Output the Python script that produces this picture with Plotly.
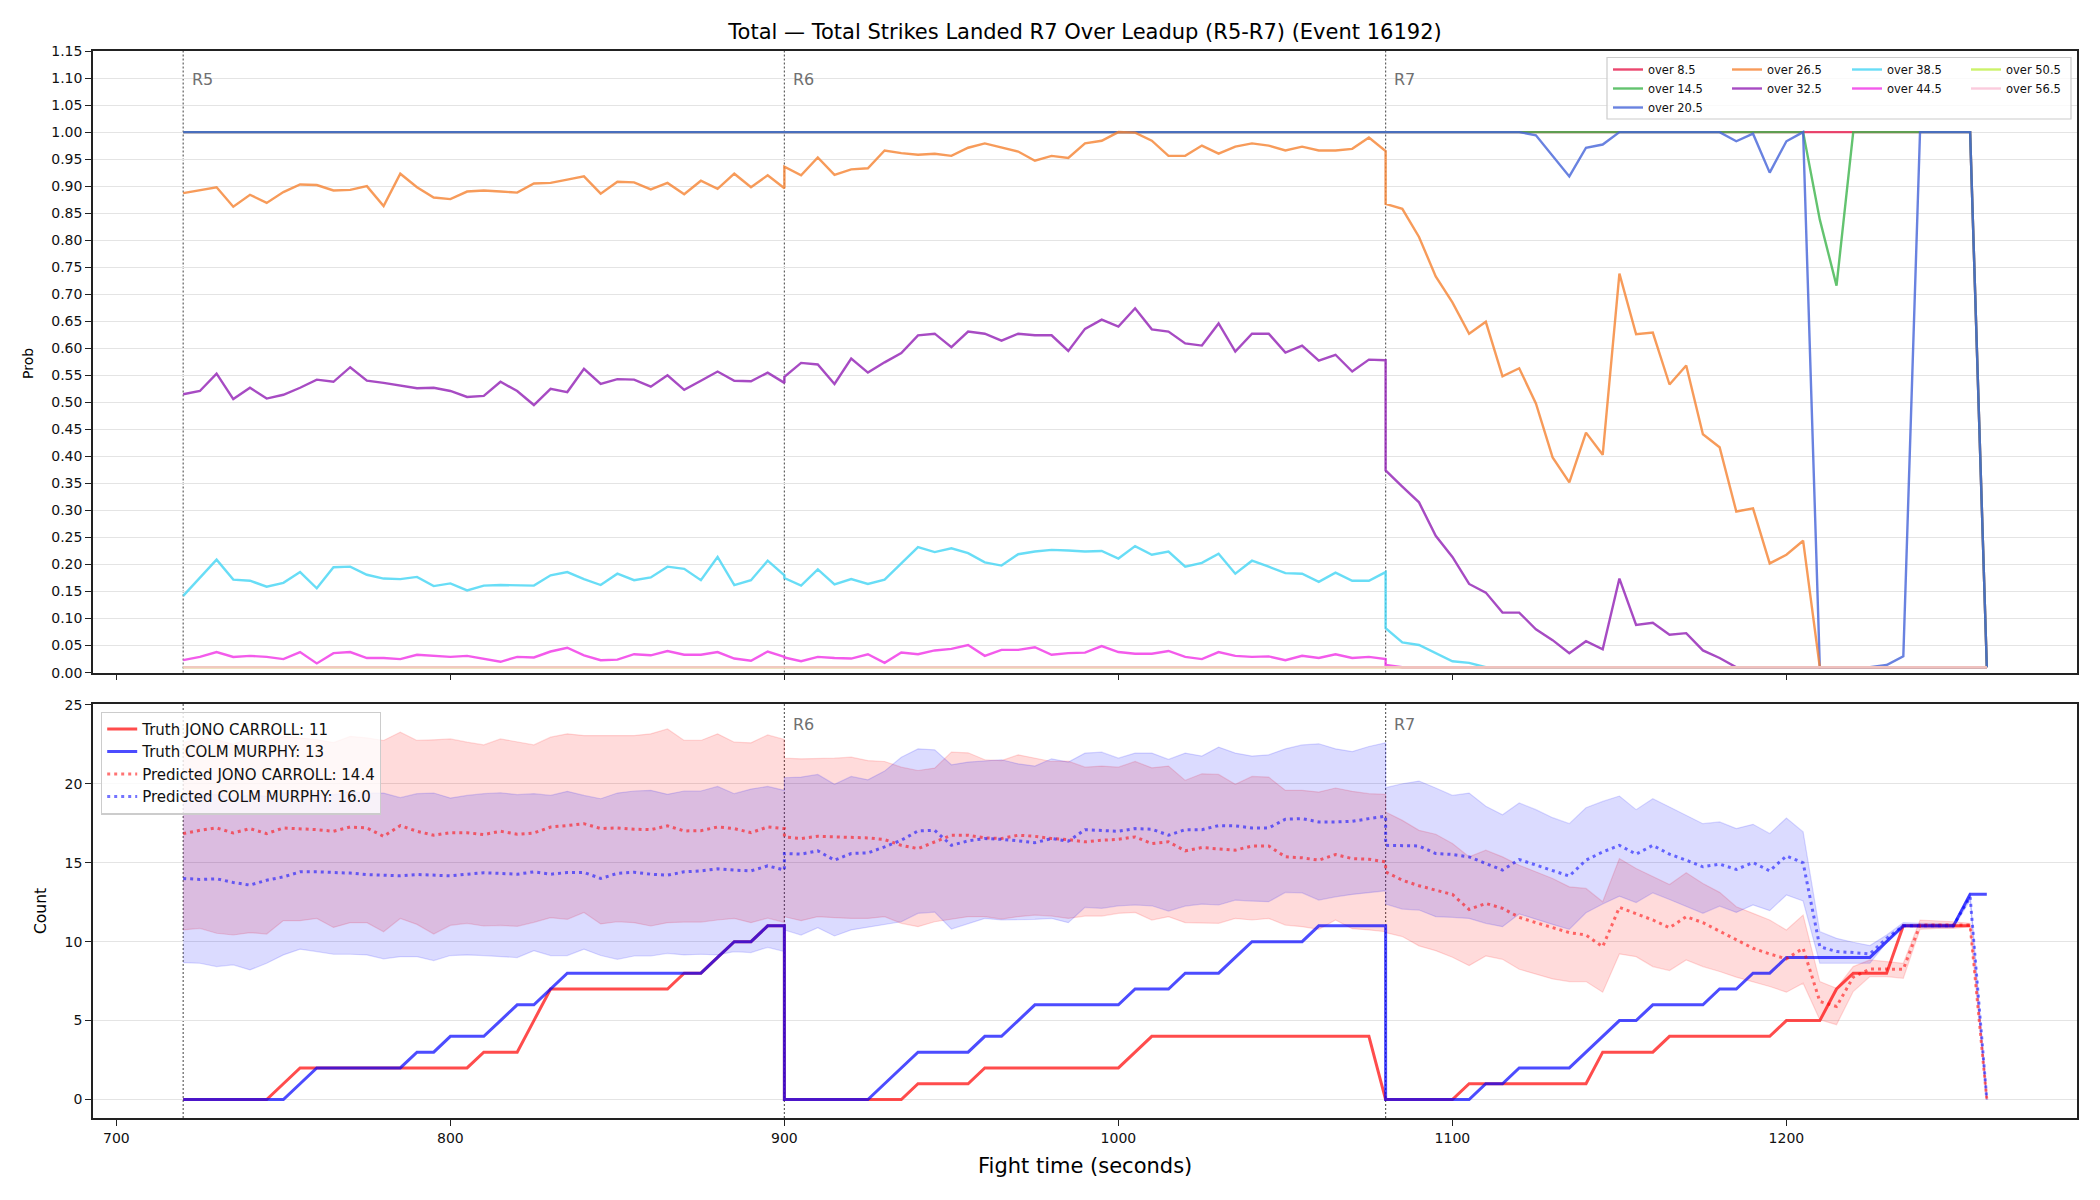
import plotly.graph_objects as go

# ---------------- time axis (seconds), sampled every 5 s per round ----------------
t_r5 = [720, 725, 730, 735, 740, 745, 750, 755, 760, 765, 770, 775, 780, 785, 790, 795, 800, 805, 810,
        815, 820, 825, 830, 835, 840, 845, 850, 855, 860, 865, 870, 875, 880, 885, 890, 895, 900]
t_r6 = [900, 905, 910, 915, 920, 925, 930, 935, 940, 945, 950, 955, 960, 965, 970, 975, 980, 985, 990,
        995, 1000, 1005, 1010, 1015, 1020, 1025, 1030, 1035, 1040, 1045, 1050, 1055, 1060, 1065, 1070, 1075, 1080]
t_r7 = [1080, 1085, 1090, 1095, 1100, 1105, 1110, 1115, 1120, 1125, 1130, 1135, 1140, 1145, 1150, 1155, 1160,
        1165, 1170, 1175, 1180, 1185, 1190, 1195, 1200, 1205, 1210, 1215, 1220, 1225, 1230, 1235, 1240, 1245,
        1250, 1255, 1260]
time_s = t_r5 + t_r6 + t_r7

round_starts = [720, 900, 1080]
round_labels = ["R5", "R6", "R7"]

# ---------------- top panel: over/under probabilities ----------------
ones_round = [1.0, 1.0, 1.0, 1.0, 1.0, 1.0, 1.0, 1.0, 1.0, 1.0, 1.0, 1.0, 1.0, 1.0, 1.0, 1.0, 1.0, 1.0, 1.0,
              1.0, 1.0, 1.0, 1.0, 1.0, 1.0, 1.0, 1.0, 1.0, 1.0, 1.0, 1.0, 1.0, 1.0, 1.0, 1.0, 1.0, 1.0]
floor_round = [0.01, 0.01, 0.01, 0.01, 0.01, 0.01, 0.01, 0.01, 0.01, 0.01, 0.01, 0.01, 0.01, 0.01, 0.01, 0.01,
               0.01, 0.01, 0.01, 0.01, 0.01, 0.01, 0.01, 0.01, 0.01, 0.01, 0.01, 0.01, 0.01, 0.01, 0.01, 0.01,
               0.01, 0.01, 0.01, 0.01, 0.01]

over_8_5_r7 = [1.0, 1.0, 1.0, 1.0, 1.0, 1.0, 1.0, 1.0, 1.0, 1.0, 1.0, 1.0, 1.0, 1.0, 1.0, 1.0, 1.0, 1.0, 1.0,
               1.0, 1.0, 1.0, 1.0, 1.0, 1.0, 1.0, 1.0, 1.0, 1.0, 1.0, 1.0, 1.0, 1.0, 1.0, 1.0, 1.0, 0.01]
over_14_5_r7 = [1.0, 1.0, 1.0, 1.0, 1.0, 1.0, 1.0, 1.0, 1.0, 1.0, 1.0, 1.0, 1.0, 1.0, 1.0, 1.0, 1.0, 1.0, 1.0,
                1.0, 1.0, 1.0, 1.0, 1.0, 1.0, 1.0, 0.838, 0.716, 1.0, 1.0, 1.0, 1.0, 1.0, 1.0, 1.0, 1.0, 0.01]
over_20_5_r7 = [1.0, 1.0, 1.0, 1.0, 1.0, 1.0, 1.0, 1.0, 1.0, 0.994, 0.956, 0.918, 0.971, 0.977, 1.0, 1.0, 1.0,
                1.0, 1.0, 1.0, 1.0, 0.983, 0.997, 0.925, 0.983, 1.0, 0.01, 0.01, 0.01, 0.01, 0.014, 0.03,
                1.0, 1.0, 1.0, 1.0, 0.01]

over_26_5_r5 = [0.887, 0.893, 0.898, 0.862, 0.884, 0.869, 0.889, 0.903, 0.902, 0.892, 0.893, 0.900, 0.863,
                0.923, 0.898, 0.879, 0.876, 0.890, 0.892, 0.890, 0.888, 0.905, 0.906, 0.912, 0.918, 0.886,
                0.908, 0.907, 0.894, 0.906, 0.885, 0.910, 0.895, 0.923, 0.898, 0.920, 0.896]
over_26_5_r6 = [0.936, 0.920, 0.953, 0.921, 0.931, 0.933, 0.966, 0.961, 0.958, 0.960, 0.956, 0.971, 0.979,
                0.972, 0.964, 0.947, 0.956, 0.952, 0.979, 0.984, 1.000, 0.999, 0.984, 0.956, 0.956, 0.975,
                0.960, 0.973, 0.979, 0.975, 0.966, 0.973, 0.966, 0.966, 0.969, 0.990, 0.965]
over_26_5_r7 = [0.867, 0.858, 0.806, 0.733, 0.685, 0.627, 0.649, 0.548, 0.563, 0.498, 0.398, 0.352, 0.444,
                0.403, 0.738, 0.626, 0.629, 0.533, 0.568, 0.441, 0.417, 0.298, 0.304, 0.202, 0.218, 0.244,
                0.01, 0.01, 0.01, 0.01, 0.01, 0.01, 0.01, 0.01, 0.01, 0.01, 0.01]

over_32_5_r5 = [0.515, 0.521, 0.553, 0.506, 0.527, 0.507, 0.514, 0.527, 0.542, 0.538, 0.565, 0.540, 0.536,
                0.531, 0.526, 0.527, 0.521, 0.510, 0.512, 0.538, 0.521, 0.495, 0.525, 0.519, 0.562, 0.534,
                0.543, 0.542, 0.529, 0.550, 0.523, 0.540, 0.557, 0.540, 0.539, 0.555, 0.536]
over_32_5_r6 = [0.547, 0.573, 0.570, 0.534, 0.581, 0.555, 0.574, 0.591, 0.624, 0.627, 0.602, 0.631, 0.627,
                0.614, 0.627, 0.624, 0.624, 0.595, 0.636, 0.653, 0.640, 0.674, 0.635, 0.631, 0.609, 0.605,
                0.646, 0.594, 0.627, 0.627, 0.592, 0.605, 0.577, 0.588, 0.557, 0.579, 0.578]
over_32_5_r7 = [0.374, 0.344, 0.315, 0.253, 0.214, 0.164, 0.148, 0.111, 0.111, 0.080, 0.060, 0.036, 0.058,
                0.043, 0.174, 0.088, 0.092, 0.070, 0.073, 0.041, 0.027, 0.01, 0.01, 0.01, 0.01, 0.01,
                0.01, 0.01, 0.01, 0.01, 0.01, 0.01, 0.01, 0.01, 0.01, 0.01, 0.01]

over_38_5_r5 = [0.142, 0.176, 0.209, 0.172, 0.170, 0.159, 0.166, 0.186, 0.156, 0.195, 0.196, 0.181, 0.174,
                0.173, 0.177, 0.160, 0.165, 0.152, 0.161, 0.162, 0.162, 0.161, 0.180, 0.186, 0.173, 0.162,
                0.183, 0.171, 0.176, 0.196, 0.192, 0.171, 0.214, 0.162, 0.171, 0.207, 0.180]
over_38_5_r6 = [0.175, 0.161, 0.191, 0.163, 0.173, 0.164, 0.172, 0.202, 0.232, 0.223, 0.230, 0.221, 0.204,
                0.198, 0.219, 0.224, 0.227, 0.226, 0.224, 0.225, 0.211, 0.234, 0.218, 0.224, 0.196, 0.203,
                0.220, 0.183, 0.207, 0.196, 0.184, 0.183, 0.168, 0.185, 0.170, 0.170, 0.186]
over_38_5_r7 = [0.082, 0.056, 0.051, 0.036, 0.021, 0.018, 0.01, 0.01, 0.01, 0.01, 0.01, 0.01, 0.01, 0.01,
                0.01, 0.01, 0.01, 0.01, 0.01, 0.01, 0.01, 0.01, 0.01, 0.01, 0.01, 0.01, 0.01, 0.01, 0.01,
                0.01, 0.01, 0.01, 0.01, 0.01, 0.01, 0.01, 0.01]

over_44_5_r5 = [0.023, 0.029, 0.038, 0.029, 0.031, 0.029, 0.025, 0.038, 0.017, 0.036, 0.038, 0.027, 0.027,
                0.025, 0.033, 0.031, 0.029, 0.031, 0.025, 0.020, 0.029, 0.028, 0.039, 0.046, 0.032, 0.023,
                0.024, 0.034, 0.032, 0.040, 0.033, 0.033, 0.038, 0.026, 0.022, 0.039, 0.029]
over_44_5_r6 = [0.028, 0.021, 0.029, 0.027, 0.026, 0.034, 0.018, 0.037, 0.034, 0.041, 0.044, 0.051, 0.031,
                0.042, 0.042, 0.047, 0.033, 0.036, 0.037, 0.049, 0.038, 0.035, 0.035, 0.040, 0.029, 0.025,
                0.038, 0.031, 0.029, 0.030, 0.023, 0.031, 0.027, 0.034, 0.027, 0.029, 0.025]
over_44_5_r7 = [0.014, 0.01, 0.01, 0.01, 0.01, 0.01, 0.01, 0.01, 0.01, 0.01, 0.01, 0.01, 0.01, 0.01,
                0.01, 0.01, 0.01, 0.01, 0.01, 0.01, 0.01, 0.01, 0.01, 0.01, 0.01, 0.01, 0.01, 0.01, 0.01,
                0.01, 0.01, 0.01, 0.01, 0.01, 0.01, 0.01, 0.01]

prob_series = [
    ("over 8.5", ones_round + ones_round + over_8_5_r7, "230,25,75"),
    ("over 14.5", ones_round + ones_round + over_14_5_r7, "60,180,75"),
    ("over 20.5", ones_round + ones_round + over_20_5_r7, "67,99,216"),
    ("over 26.5", over_26_5_r5 + over_26_5_r6 + over_26_5_r7, "245,130,49"),
    ("over 32.5", over_32_5_r5 + over_32_5_r6 + over_32_5_r7, "145,30,180"),
    ("over 38.5", over_38_5_r5 + over_38_5_r6 + over_38_5_r7, "66,212,244"),
    ("over 44.5", over_44_5_r5 + over_44_5_r6 + over_44_5_r7, "240,50,230"),
    ("over 50.5", floor_round + floor_round + floor_round, "191,239,69"),
    ("over 56.5", floor_round + floor_round + floor_round, "250,190,212"),
]
legend_columns = ["legend", "legend", "legend", "legend2", "legend2", "legend3", "legend3", "legend4", "legend4"]

# ---------------- bottom panel: counts ----------------
truth_jono = [0, 0, 0, 0, 0, 0, 1, 2, 2, 2, 2, 2, 2, 2, 2, 2, 2, 2, 3, 3, 3, 5, 7, 7, 7, 7, 7, 7, 7, 7, 8, 8, 9, 10, 10, 11, 11,
              0, 0, 0, 0, 0, 0, 0, 0, 1, 1, 1, 1, 2, 2, 2, 2, 2, 2, 2, 2, 2, 3, 4, 4, 4, 4, 4, 4, 4, 4, 4, 4, 4, 4, 4, 4,
              0, 0, 0, 0, 0, 0, 1, 1, 1, 1, 1, 1, 1, 1, 3, 3, 3, 3, 4, 4, 4, 4, 4, 4, 4, 5, 5, 5, 7, 8, 8, 8, 11, 11, 11, 11, 11]
truth_colm = [0, 0, 0, 0, 0, 0, 0, 1, 2, 2, 2, 2, 2, 2, 3, 3, 4, 4, 4, 5, 6, 6, 7, 8, 8, 8, 8, 8, 8, 8, 8, 8, 9, 10, 10, 11, 11,
              0, 0, 0, 0, 0, 0, 1, 2, 3, 3, 3, 3, 4, 4, 5, 6, 6, 6, 6, 6, 6, 7, 7, 7, 8, 8, 8, 9, 10, 10, 10, 10, 11, 11, 11, 11, 11,
              0, 0, 0, 0, 0, 0, 1, 1, 2, 2, 2, 2, 3, 4, 5, 5, 6, 6, 6, 6, 7, 7, 8, 8, 9, 9, 9, 9, 9, 9, 10, 11, 11, 11, 11, 13, 13]

pred_jono = [16.84, 17.05, 17.2, 16.88, 17.16, 16.84, 17.2, 17.16, 17.09, 16.99, 17.26, 17.2, 16.67, 17.35, 16.99,
             16.74, 16.9, 16.9, 16.78, 16.99, 16.8, 16.88, 17.26, 17.35, 17.47, 17.16, 17.2, 17.12, 17.09, 17.33,
             17.01, 17.03, 17.26, 17.16, 16.9, 17.26, 17.16,
             16.63, 16.53, 16.67, 16.63, 16.63, 16.57, 16.46, 16.1, 15.89, 16.32, 16.74, 16.74, 16.57, 16.53, 16.74,
             16.67, 16.53, 16.46, 16.32, 16.42, 16.48, 16.63, 16.21, 16.32, 15.75, 15.96, 15.89, 15.79, 16.06, 16.06,
             15.37, 15.31, 15.16, 15.52, 15.26, 15.22, 15.05,
             14.42, 13.89, 13.54, 13.26, 12.99, 12.04, 12.42, 12.11, 11.54, 11.2, 10.88, 10.57, 10.42, 9.68, 12.17,
             11.79, 11.37, 10.88, 11.58, 11.2, 10.67, 10.15, 9.58, 9.22, 8.91, 9.58, 6.21, 5.89, 7.75, 8.27, 8.27,
             8.25, 11.05, 11.05, 11.05, 11.05, 0.0]
pred_colm = [14.0, 13.94, 13.98, 13.75, 13.58, 13.89, 14.1, 14.42, 14.42, 14.38, 14.34, 14.25, 14.21, 14.17, 14.25,
             14.21, 14.17, 14.27, 14.36, 14.32, 14.27, 14.42, 14.27, 14.38, 14.38, 14.0, 14.32, 14.4, 14.27, 14.21,
             14.42, 14.48, 14.61, 14.53, 14.48, 14.8, 14.53,
             15.58, 15.54, 15.75, 15.16, 15.58, 15.62, 16.0, 16.42, 17.01, 17.05, 16.1, 16.38, 16.53, 16.48, 16.38,
             16.27, 16.53, 16.36, 17.09, 17.05, 16.99, 17.16, 17.12, 16.74, 17.09, 17.09, 17.35, 17.33, 17.2, 17.2,
             17.75, 17.79, 17.58, 17.58, 17.62, 17.79, 17.94,
             16.1, 16.06, 16.06, 15.58, 15.52, 15.37, 14.95, 14.53, 15.2, 14.84, 14.48, 14.15, 15.16, 15.68, 16.1,
             15.54, 16.1, 15.54, 15.16, 14.74, 14.91, 14.57, 15.01, 14.48, 15.43, 14.99, 9.68, 9.37, 9.31, 9.22,
             10.21, 11.01, 11.01, 11.01, 11.01, 12.84, 0.0]

jono_hi = [22.6, 22.9, 22.8, 22.5, 22.9, 22.7, 23.0, 22.9, 22.8, 22.6, 23.0, 22.9, 22.74, 23.26, 22.74, 22.78,
           22.84, 22.63, 22.46, 22.84, 22.63, 22.46, 22.95, 23.16, 23.05, 23.05, 23.09, 23.05, 23.16, 23.47, 22.74,
           22.74, 23.16, 22.63, 22.59, 23.09, 22.8,
           21.62, 21.58, 21.58, 21.62, 21.68, 21.47, 21.41, 21.05, 20.84, 20.99, 22.0, 21.96, 21.52, 21.47, 21.83,
           21.64, 21.41, 21.43, 21.05, 21.12, 21.05, 21.41, 21.01, 21.12, 20.21, 20.63, 20.59, 19.96, 20.46, 20.42,
           19.58, 19.58, 19.47, 19.73, 19.52, 19.37, 19.33,
           18.21, 17.68, 17.05, 16.8, 16.21, 15.37, 15.79, 15.37, 14.84, 14.42, 14.0, 13.47, 13.37, 12.53, 15.26,
           14.63, 14.11, 13.62, 14.36, 13.68, 13.12, 12.21, 11.79, 11.37, 10.74, 11.68, 7.47, 7.05, 8.42, 8.84,
           8.74, 8.63, 11.37, 11.33, 11.26, 11.16, 0.0]
jono_lo = [10.74, 10.84, 10.53, 10.42, 10.57, 10.48, 11.33, 11.33, 11.47, 10.9, 11.2, 11.2, 10.63, 11.47, 11.09,
           10.48, 11.03, 11.16, 10.99, 11.03, 10.97, 11.22, 11.52, 11.41, 11.85, 11.12, 11.26, 11.2, 10.99, 11.2,
           11.24, 11.24, 11.37, 11.47, 11.2, 11.49, 11.22,
           11.58, 11.33, 11.58, 11.52, 11.47, 11.47, 11.58, 11.16, 10.95, 11.26, 11.43, 11.58, 11.58, 11.43, 11.58,
           11.68, 11.62, 11.47, 11.62, 11.62, 11.79, 11.85, 11.37, 11.58, 11.2, 11.2, 11.16, 11.47, 11.37, 11.47,
           11.05, 10.95, 10.78, 11.37, 10.82, 10.74, 10.63,
           10.57, 10.32, 9.73, 9.43, 9.01, 8.48, 9.09, 8.88, 8.25, 7.96, 7.64, 7.47, 7.47, 6.8, 9.22, 9.05, 8.42,
           8.17, 8.84, 8.42, 8.11, 7.75, 7.47, 7.16, 6.8, 7.37, 5.05, 4.74, 6.84, 7.79, 7.79, 7.68, 10.78, 10.84,
           10.84, 10.95, 0.0]
colm_hi = [19.2, 19.4, 19.3, 19.1, 19.3, 19.2, 19.4, 19.5, 19.4, 19.3, 19.5, 19.4, 19.41, 19.12, 19.37, 19.41,
           19.09, 19.26, 19.37, 19.43, 19.31, 19.37, 19.26, 19.52, 19.26, 19.05, 19.41, 19.54, 19.58, 19.33, 19.54,
           19.54, 19.83, 19.37, 19.66, 19.83, 19.58,
           20.38, 20.42, 20.59, 19.96, 20.46, 20.25, 20.8, 21.68, 22.21, 22.15, 21.2, 21.37, 21.43, 21.52, 21.26,
           21.12, 21.58, 21.37, 21.94, 22.0, 21.62, 21.94, 21.94, 21.54, 21.94, 21.75, 22.32, 21.94, 21.75, 21.83,
           22.21, 22.46, 22.53, 22.21, 22.04, 22.36, 22.59,
           19.75, 20.0, 20.17, 19.73, 19.26, 19.41, 18.57, 18.04, 18.78, 18.36, 17.85, 17.47, 18.48, 18.88, 19.22,
           18.36, 19.05, 18.53, 18.0, 17.47, 17.58, 17.16, 17.43, 16.84, 17.83, 16.95, 10.63, 10.21, 9.96, 9.75,
           10.42, 11.2, 11.16, 11.16, 11.12, 13.09, 0.0]
colm_lo = [8.67, 8.63, 8.42, 8.53, 8.21, 8.63, 9.16, 9.52, 9.37, 9.2, 9.2, 9.16, 8.91, 9.05, 9.05, 8.8, 9.12,
           9.16, 9.12, 9.05, 8.99, 9.43, 9.12, 9.12, 9.52, 9.12, 8.88, 9.09, 9.09, 9.26, 9.16, 9.2, 9.16, 9.37,
           9.31, 9.64, 9.37,
           10.74, 10.42, 10.88, 10.36, 10.74, 10.91, 11.05, 11.26, 11.79, 11.87, 10.8, 11.16, 11.47, 11.37, 11.37,
           11.41, 11.47, 11.2, 12.17, 12.11, 12.27, 12.32, 12.27, 11.94, 12.25, 12.38, 12.32, 12.63, 12.57, 12.53,
           13.12, 13.09, 12.63, 12.84, 12.99, 13.09, 13.22,
           12.38, 12.06, 12.0, 11.58, 11.54, 11.47, 11.16, 10.95, 11.75, 11.41, 11.09, 10.78, 11.83, 12.38, 12.88,
           12.48, 13.09, 12.67, 12.25, 11.79, 12.25, 11.85, 12.32, 11.96, 12.95, 12.57, 8.63, 8.63, 8.63, 8.63,
           9.96, 10.95, 10.88, 10.88, 10.88, 12.63, 0.0]

name_truth_jono = "Truth JONO CARROLL: 11"
name_truth_colm = "Truth COLM MURPHY: 13"
name_pred_jono = "Predicted JONO CARROLL: 14.4"
name_pred_colm = "Predicted COLM MURPHY: 16.0"

title_text = "Total \u2014 Total Strikes Landed R7 Over Leadup (R5-R7) (Event 16192)"

# ---------------- figure ----------------
FONT = "DejaVu Sans"
W, H = 2100, 1200
ML, MR, MT, MB = 93, 23, 51, 82
PW = W - ML - MR
PH = H - MT - MB


def px_x(px):
    return (px - ML) / PW


def px_y(py):
    return (H - MB - py) / PH


fig = go.Figure()

for (name, vals, rgb), leg in zip(prob_series, legend_columns):
    fig.add_trace(go.Scatter(
        x=time_s, y=vals, mode="lines", name=name, legend=leg,
        line=dict(color=f"rgba({rgb},0.8)", width=2.4),
        xaxis="x", yaxis="y"))

# bands
for hi, lo, rgb in [(jono_hi, jono_lo, "255,0,0"), (colm_hi, colm_lo, "0,0,255")]:
    fig.add_trace(go.Scatter(x=time_s, y=hi, mode="lines", showlegend=False,
                             line=dict(color=f"rgba({rgb},0.14)", width=1.2),
                             xaxis="x2", yaxis="y2", hoverinfo="skip"))
    fig.add_trace(go.Scatter(x=time_s, y=lo, mode="lines", showlegend=False, fill="tonexty",
                             fillcolor=f"rgba({rgb},0.14)",
                             line=dict(color=f"rgba({rgb},0.14)", width=1.2),
                             xaxis="x2", yaxis="y2", hoverinfo="skip"))

fig.add_trace(go.Scatter(x=time_s, y=truth_jono, mode="lines", name=name_truth_jono, legend="legend5",
                         line=dict(color="rgba(255,0,0,0.7)", width=3), xaxis="x2", yaxis="y2"))
fig.add_trace(go.Scatter(x=time_s, y=truth_colm, mode="lines", name=name_truth_colm, legend="legend5",
                         line=dict(color="rgba(0,0,255,0.7)", width=3), xaxis="x2", yaxis="y2"))
fig.add_trace(go.Scatter(x=time_s, y=pred_jono, mode="lines", name=name_pred_jono, legend="legend5",
                         line=dict(color="rgba(255,0,0,0.55)", width=3, dash="3px,4px"), xaxis="x2", yaxis="y2"))
fig.add_trace(go.Scatter(x=time_s, y=pred_colm, mode="lines", name=name_pred_colm, legend="legend5",
                         line=dict(color="rgba(0,0,255,0.55)", width=3, dash="3px,4px"), xaxis="x2", yaxis="y2"))

shapes = []
for xv in round_starts:
    for yref in ["y domain", "y2 domain"]:
        shapes.append(dict(type="line", xref="x" if yref == "y domain" else "x2", yref=yref,
                           x0=xv, x1=xv, y0=0, y1=1, layer="below",
                           line=dict(color="rgba(70,70,70,0.85)", width=1.2, dash="2px,2px")))
# box around the 4-column legend of the top panel
shapes.append(dict(type="rect", xref="paper", yref="paper",
                   x0=px_x(1607), x1=px_x(2071), y0=px_y(119), y1=px_y(57.5), layer="above",
                   line=dict(color="#cccccc", width=1.2), fillcolor="rgba(255,255,255,0.8)"))

annotations = []
for xv, lab in zip(round_starts, round_labels):
    annotations.append(dict(x=xv + 2, y=1.097, xref="x", yref="y", text=lab, showarrow=False,
                            xanchor="left", yanchor="middle", font=dict(family=FONT, size=16, color="#707070")))
    if lab != "R5":
        annotations.append(dict(x=xv + 2, y=23.75, xref="x2", yref="y2", text=lab, showarrow=False,
                                xanchor="left", yanchor="middle", font=dict(family=FONT, size=16, color="#707070")))
annotations.append(dict(x=px_x(28), y=px_y(364), xref="paper", yref="paper", text="Prob", textangle=-90,
                        showarrow=False, xanchor="center", yanchor="middle",
                        font=dict(family=FONT, size=14, color="#000")))
annotations.append(dict(x=px_x(41), y=px_y(911), xref="paper", yref="paper", text="Count", textangle=-90,
                        showarrow=False, xanchor="center", yanchor="middle",
                        font=dict(family=FONT, size=15.5, color="#000")))
annotations.append(dict(x=0.5, y=px_y(1166), xref="paper", yref="paper", text="Fight time (seconds)",
                        showarrow=False, xanchor="center", yanchor="middle",
                        font=dict(family=FONT, size=21, color="#000")))

axis_common = dict(showline=True, mirror=True, linecolor="#222222", linewidth=1.6, ticks="outside",
                   ticklen=6, tickwidth=1.3, tickcolor="#222222", zeroline=False,
                   tickfont=dict(family=FONT, size=14, color="#111"))

top_dom = [px_y(672.6), 1.0]
bot_dom = [0.0, px_y(704)]

col_legend = dict(y=px_y(55), xanchor="left", yanchor="top", bgcolor="rgba(0,0,0,0)", borderwidth=0,
                  font=dict(family=FONT, size=11.5, color="#111"), tracegroupgap=0, itemwidth=30,
                  traceorder="normal")

fig.update_layout(
    width=W, height=H,
    margin=dict(l=ML, r=MR, t=MT, b=MB),
    paper_bgcolor="white", plot_bgcolor="white",
    font=dict(family=FONT, size=14, color="#000"),
    title=dict(text=title_text, x=0.5, xref="paper", xanchor="center", y=1 - 32 / H, yref="container",
               yanchor="middle", font=dict(family=FONT, size=21, color="#000")),
    xaxis=dict(domain=[0, 1], anchor="y", range=[693, 1287], tick0=0, dtick=100, showticklabels=False,
               showgrid=False, **axis_common),
    yaxis=dict(domain=top_dom, anchor="x", range=[0, 1.15], tick0=0, dtick=0.05, tickformat=".2f",
               showgrid=True, gridcolor="#e4e4e4", gridwidth=1, **axis_common),
    xaxis2=dict(domain=[0, 1], anchor="y2", range=[693, 1287], tick0=0, dtick=100, showgrid=False,
                **axis_common),
    yaxis2=dict(domain=bot_dom, anchor="x2", range=[-1.17, 25.05], tick0=0, dtick=5,
                showgrid=True, gridcolor="#e4e4e4", gridwidth=1, **axis_common),
    legend=dict(x=px_x(1608), **col_legend),
    legend2=dict(x=px_x(1727), **col_legend),
    legend3=dict(x=px_x(1847), **col_legend),
    legend4=dict(x=px_x(1966), **col_legend),
    legend5=dict(x=px_x(101), y=px_y(711.5), xanchor="left", yanchor="top", traceorder="normal",
                 bgcolor="rgba(255,255,255,0.8)", bordercolor="#cccccc", borderwidth=1.2,
                 font=dict(family=FONT, size=15, color="#111"), tracegroupgap=0, itemwidth=30),
    shapes=shapes,
    annotations=annotations,
    showlegend=True,
)

fig.write_html("out.html")
